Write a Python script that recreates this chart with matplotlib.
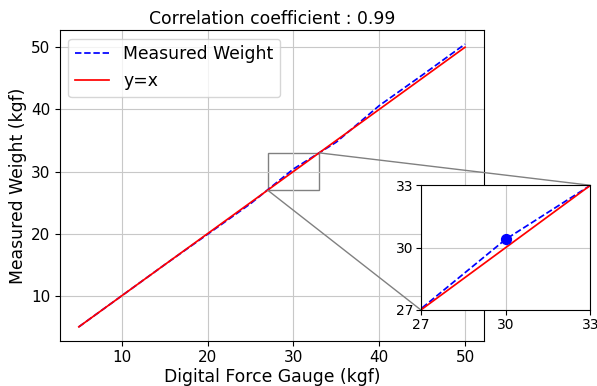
import matplotlib
matplotlib.use('Agg')
import matplotlib.pyplot as plt
from mpl_toolkits.axes_grid1.inset_locator import mark_inset

gauge = [5, 10, 15, 20, 25, 30, 35, 40, 45, 50]
measured = [5.0, 10.0, 15.0, 19.9, 24.82, 30.4, 34.73, 40.6, 45.5, 50.5]
ideal = [5, 10, 15, 20, 25, 30, 35, 40, 45, 50]
corr = 0.99

fig = plt.figure(figsize=(5.97, 3.86), dpi=100)
ax = fig.add_axes([0.0997, 0.1166, 0.7116, 0.8057])
ax.plot(gauge, measured, 'b--', linewidth=1.25, label='Measured Weight')
ax.plot(gauge, ideal, 'r-', linewidth=1.25, label='y=x')
ax.set_xlabel('Digital Force Gauge (kgf)', fontsize=12.4, labelpad=2)
ax.set_ylabel('Measured Weight (kgf)', fontsize=12.4, labelpad=3)
ax.set_title(f'Correlation coefficient : {corr}', fontsize=12.4, pad=4)
ax.tick_params(labelsize=11, pad=3)
ax.grid(True, color='#c8c8c8')
ax.legend(loc='upper left', fontsize=12.4)

axins = fig.add_axes([0.705, 0.197, 0.284, 0.323])
axins.plot(gauge, measured, 'b--', linewidth=1.25)
axins.plot(gauge, ideal, 'r-', linewidth=1.25)
axins.scatter([30], [30.4], color='blue', s=50, zorder=3)
axins.set_xlim(27, 33)
axins.set_ylim(27, 33)
axins.set_xticks([27, 30, 33])
axins.set_yticks([27, 30, 33])
axins.tick_params(labelsize=10, pad=2)
axins.grid(True, color='#c8c8c8')
mark_inset(ax, axins, loc1=1, loc2=3, fc='none', ec='0.5')

fig.savefig('out.png', dpi=100)
